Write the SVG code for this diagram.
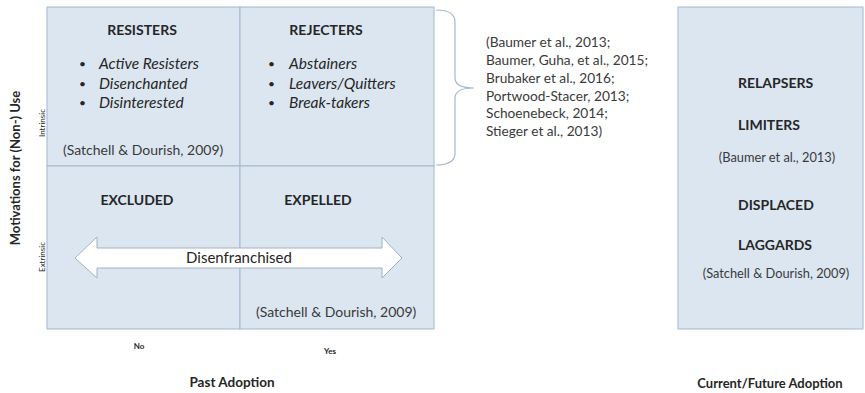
<svg xmlns="http://www.w3.org/2000/svg" width="865" height="393" viewBox="0 0 865 393">
<style>
text{font-family:Lato,"Liberation Sans",sans-serif;fill:#262626}
.quad{fill:#dce6f1;stroke:#a3b8cf;stroke-width:1}
.h{font-size:14px;font-weight:bold;text-anchor:middle}
.hl{font-size:14px;font-weight:bold}
.it{font-size:15.5px;font-style:italic}
.b{font-size:12px}
.c{font-size:14px;fill:#3a3a3a}
.cl{font-size:13.7px;fill:#3a3a3a}
.cr{font-size:12.8px;fill:#3a3a3a;text-anchor:middle}
.sm{font-size:8px}
.ax{font-weight:bold;text-anchor:middle}
.mid{text-anchor:middle}
</style>
<rect width="865" height="393" fill="#ffffff"/>
<g id="q-resisters">
<rect class="quad" x="47" y="7" width="193" height="159"/>
<text class="h" x="142" y="35">RESISTERS</text>
<text class="b" x="79" y="68">•</text><text class="it" x="99" y="69">Active Resisters</text>
<text class="b" x="79" y="87.5">•</text><text class="it" x="99" y="88.5">Disenchanted</text>
<text class="b" x="79" y="107">•</text><text class="it" x="99" y="108">Disinterested</text>
<text class="c" x="63" y="155">(Satchell &amp; Dourish, 2009)</text>
</g>
<g id="q-rejecters">
<rect class="quad" x="240" y="7" width="194" height="159"/>
<text class="h" x="326" y="35">REJECTERS</text>
<text class="b" x="268" y="68">•</text><text class="it" x="289" y="69">Abstainers</text>
<text class="b" x="268" y="87.5">•</text><text class="it" x="289" y="88.5">Leavers/Quitters</text>
<text class="b" x="268" y="107">•</text><text class="it" x="289" y="108">Break-takers</text>
</g>
<g id="q-excluded">
<rect class="quad" x="47" y="166" width="193" height="163"/>
<text class="h" x="137" y="205">EXCLUDED</text>
</g>
<g id="q-expelled">
<rect class="quad" x="240" y="166" width="194" height="163"/>
<text class="h" x="318" y="205">EXPELLED</text>
<text class="c" x="256" y="317">(Satchell &amp; Dourish, 2009)</text>
</g>
<g id="disenfranchised">
<path d="M75,258 L97,237 L97,248 L382,248 L382,237 L402,258 L382,278 L382,268 L97,268 L97,278 Z" fill="#ffffff" stroke="#a3b0bf" stroke-width="1"/>
<text class="mid" x="239" y="263" font-size="15">Disenfranchised</text>
</g>
<g id="axis-labels">
<text class="sm" transform="translate(45,123) rotate(-90)" text-anchor="middle">Intrinsic</text>
<text class="sm" transform="translate(45,257) rotate(-90)" text-anchor="middle">Extrinsic</text>
<text class="ax" font-size="13" transform="translate(20,168) rotate(-90)">Motivations for (Non-) Use</text>
<text class="sm mid" x="139" y="349" font-weight="bold">No</text>
<text class="sm mid" x="330" y="354" font-weight="bold">Yes</text>
<text class="ax" font-size="13.5" x="232" y="387">Past Adoption</text>
<text class="ax" font-size="13" x="770" y="388">Current/Future Adoption</text>
</g>
<g id="citations">
<text class="cl" x="486" y="47">(Baumer et al., 2013;</text>
<text class="cl" x="486" y="65">Baumer, Guha, et al., 2015;</text>
<text class="cl" x="486" y="83">Brubaker et al., 2016;</text>
<text class="cl" x="486" y="101">Portwood-Stacer, 2013;</text>
<text class="cl" x="486" y="118">Schoenebeck, 2014;</text>
<text class="cl" x="486" y="136">Stieger et al., 2013)</text>
</g>
<g id="current-future">
<rect class="quad" x="678" y="7" width="185" height="322"/>
<text class="hl" x="738" y="88">RELAPSERS</text>
<text class="hl" x="738" y="130">LIMITERS</text>
<text class="cr" x="777" y="162">(Baumer et al., 2013)</text>
<text class="hl" x="738" y="210">DISPLACED</text>
<text class="hl" x="738" y="250">LAGGARDS</text>
<text class="cr" x="776" y="278">(Satchell &amp; Dourish, 2009)</text>
</g>
<g id="connectors">
<path d="M436,10 Q455,10 455,22 L455,78 Q455,88 474,88 Q455,88 455,98 L455,153 Q455,165 436,165" fill="none" stroke="#a3b8cf" stroke-width="1.2"/>
</g>
</svg>
